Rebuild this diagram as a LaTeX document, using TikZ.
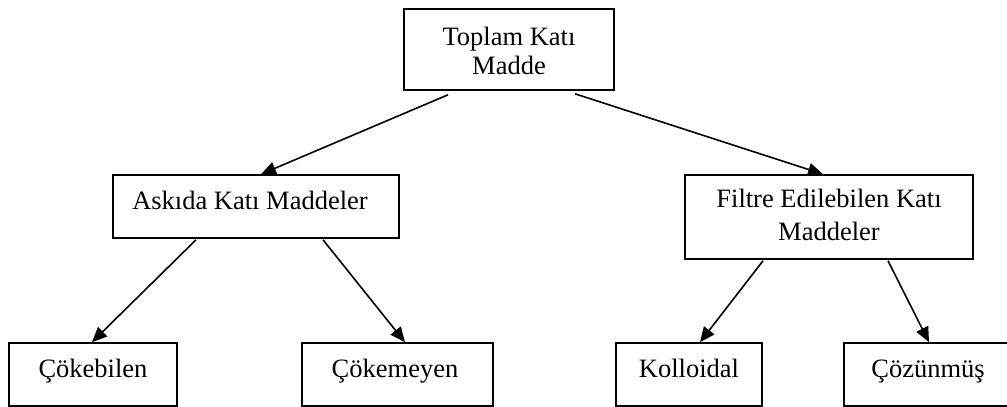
\documentclass[tikz,border=0pt]{standalone}
\usepackage{fontspec}
\setmainfont{Liberation Serif}
\usetikzlibrary{arrows.meta,calc}
\begin{document}
\begin{tikzpicture}[x=1pt,y=-1pt,
  box/.style={draw=black,line width=1.6pt,rectangle,inner sep=0pt},
  lbl/.style={anchor=base,inner sep=0pt,align=center,font=\fontsize{26.5}{31}\selectfont},
  arr/.style={line width=1.6pt,-{Triangle[length=15pt,width=13pt]}}]
  \useasboundingbox (0,0) rectangle (1007,407);
  % boxes
  \node[box,minimum width=210pt,minimum height=81pt] (top) at (509,49.5) {};
  \node[box,minimum width=286pt,minimum height=63pt] (askida) at (256,206.5) {};
  \node[box,minimum width=288pt,minimum height=84pt] (filtre) at (829,217) {};
  \node[box,minimum width=168pt,minimum height=63pt] (cokebilen) at (93,374.5) {};
  \node[box,minimum width=191pt,minimum height=63pt] (cokemeyen) at (397.5,374.5) {};
  \node[box,minimum width=146pt,minimum height=63pt] (kolloidal) at (689,374.5) {};
  \node[box,minimum width=170pt,minimum height=63pt] (cozunmus) at (929,374.5) {};
  % labels
  \node[lbl] (ttop1) at (509,45) {Toplam Katı};
  \node[lbl] (ttop2) at (509,74) {Madde};
  \node[lbl] (taskida) at (250,209) {Askıda Katı Maddeler};
  \node[lbl] (tfiltre1) at (829,207) {Filtre Edilebilen Katı};
  \node[lbl] (tfiltre2) at (829,240) {Maddeler};
  \node[lbl] (tcokebilen) at (93,377) {Çökebilen};
  \node[lbl] (tcokemeyen) at (395,377) {Çökemeyen};
  \node[lbl] (tkolloidal) at (689,377) {Kolloidal};
  \node[lbl] (tcozunmus) at (928,377) {Çözünmüş};
  % connectors
  \draw[arr] ([xshift=-61pt,yshift=-4pt]top.south) -- ([xshift=5pt]askida.north);
  \draw[arr] ([xshift=66pt,yshift=-3pt]top.south) -- ([xshift=-6pt]filtre.north);
  \draw[arr] ([xshift=-60pt,yshift=-1pt]askida.south) -- ([xshift=-1pt]cokebilen.north);
  \draw[arr] ([xshift=67pt,yshift=-1pt]askida.south) -- ([xshift=7.5pt]cokemeyen.north);
  \draw[arr] ([xshift=-66pt,yshift=-1pt]filtre.south) -- ([xshift=11pt]kolloidal.north);
  \draw[arr] ([xshift=59pt,yshift=-1pt]filtre.south) -- (cozunmus.north);
\end{tikzpicture}
\end{document}
